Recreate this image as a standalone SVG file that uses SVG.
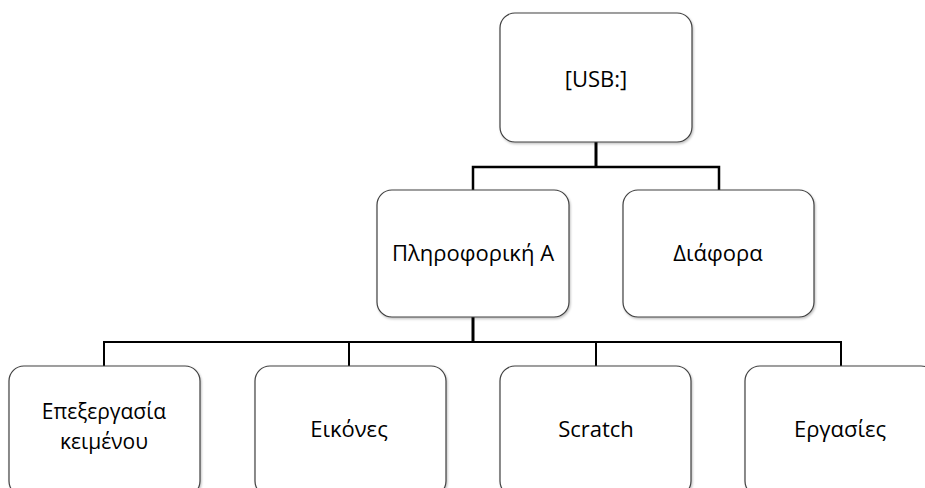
<svg xmlns="http://www.w3.org/2000/svg" width="925" height="488" viewBox="0 0 925 488">
<defs>
<filter id="sh" x="-10%" y="-10%" width="130%" height="130%">
<feDropShadow dx="1" dy="1.5" stdDeviation="1.2" flood-color="#000" flood-opacity="0.25"/>
</filter>
</defs>
<style>
.box{fill:#fff;stroke:#404040;stroke-width:1.2;filter:url(#sh)}
.t{font-family:"Open Sans","Liberation Sans",sans-serif;font-size:22px;fill:#000;text-anchor:middle}
.c{fill:none;stroke:#000;stroke-linejoin:miter}
</style>
<rect width="925" height="488" fill="#fff"/>
<g id="connectors">
<path class="c" stroke-width="3" d="M596 142 V167"/>
<path class="c" stroke-width="2.5" d="M473 190 V167 H719 V190"/>
<path class="c" stroke-width="3" d="M473 317 V342"/>
<path class="c" stroke-width="2" d="M104 366 V342 H841 V366 M349 342 V366 M596 342 V366"/>
</g>
<g id="node-usb">
<rect class="box" x="500" y="13" width="192" height="129" rx="15"/>
<text class="t" x="596" y="87">[USB:]</text>
</g>
<g id="node-pliroforiki">
<rect class="box" x="377" y="190" width="192" height="127" rx="15"/>
<text class="t" x="473" y="261">Πληροφορική Α</text>
</g>
<g id="node-diafora">
<rect class="box" x="623" y="190" width="191" height="127" rx="15"/>
<text class="t" x="718" y="261">Διάφορα</text>
</g>
<g id="node-epexergasia">
<rect class="box" x="9" y="366" width="191" height="130" rx="15"/>
<text class="t" x="104" y="419" style="font-size:21px">Επεξεργασία</text>
<text class="t" x="104" y="449" style="font-size:21px">κειμένου</text>
</g>
<g id="node-eikones">
<rect class="box" x="255" y="366" width="191" height="130" rx="15"/>
<text class="t" x="349" y="437">Εικόνες</text>
</g>
<g id="node-scratch">
<rect class="box" x="500" y="366" width="191" height="130" rx="15"/>
<text class="t" x="596" y="437">Scratch</text>
</g>
<g id="node-ergasies">
<rect class="box" x="745" y="366" width="191" height="130" rx="15"/>
<text class="t" x="840" y="437">Εργασίες</text>
</g>
</svg>
